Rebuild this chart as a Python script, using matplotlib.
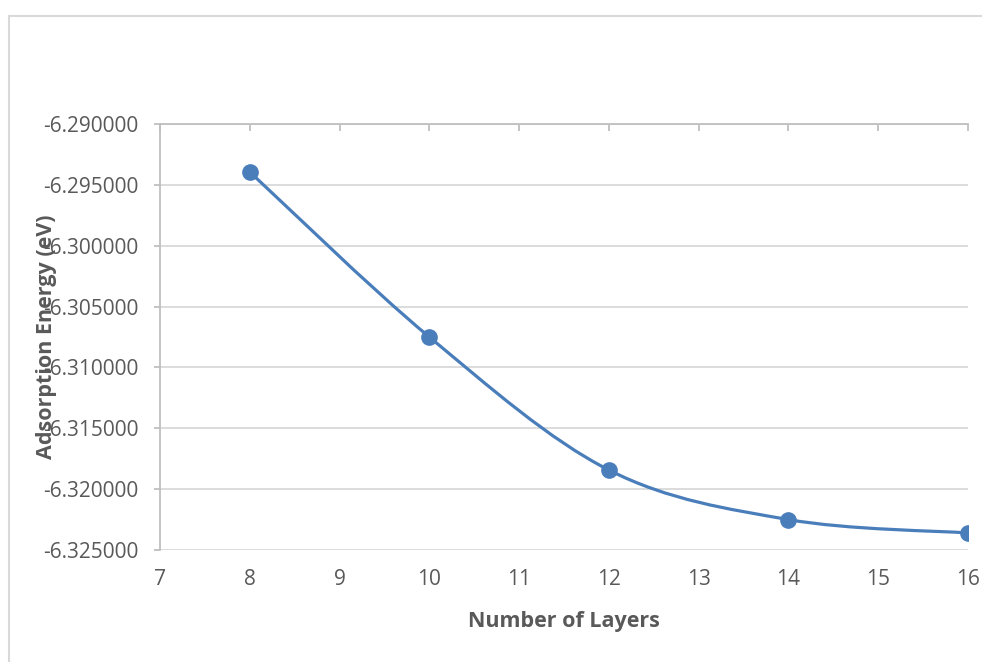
import matplotlib
matplotlib.use("Agg")
import matplotlib.pyplot as plt
from matplotlib.path import Path
from matplotlib.patches import PathPatch, Rectangle

# ── data ──
layers = [8, 10, 12, 14, 16]
energy = [-6.29394, -6.30750, -6.31843, -6.32250, -6.32360]

x_ticks = list(range(7, 17))
y_ticks = [-6.325, -6.320, -6.315, -6.310, -6.305, -6.300, -6.295, -6.290]

LINE = "#4A7EBB"
GRID = "#D9D9D9"
AXIS = "#BFBFBF"
TEXT = "#595959"

plt.rcParams["font.family"] = ["Open Sans", "DejaVu Sans"]

fig = plt.figure(figsize=(9.82, 6.62), dpi=100)
ax = fig.add_axes([160 / 982, 1 - 550 / 662, 808 / 982, 426 / 662])

# chart border (Excel chart area)
fig.patches.append(Rectangle((9 / 982, -0.05), 1.2, 1 - 16 / 662 + 0.05,
                             transform=fig.transFigure, fill=False,
                             edgecolor=GRID, linewidth=1.5))

# smoothed line (Excel-style Catmull-Rom Bezier through the points)
pts = list(zip(layers, energy))
verts = [pts[0]]
codes = [Path.MOVETO]
for i in range(len(pts) - 1):
    p0 = pts[i - 1] if i > 0 else pts[i]
    p1 = pts[i]
    p2 = pts[i + 1]
    p3 = pts[i + 2] if i + 2 < len(pts) else pts[i + 1]
    c1 = (p1[0] + (p2[0] - p0[0]) / 6, p1[1] + (p2[1] - p0[1]) / 6)
    c2 = (p2[0] - (p3[0] - p1[0]) / 6, p2[1] - (p3[1] - p1[1]) / 6)
    verts += [c1, c2, p2]
    codes += [Path.CURVE4] * 3
ax.add_patch(PathPatch(Path(verts, codes), facecolor="none",
                       edgecolor=LINE, linewidth=2.3, zorder=3))
ax.plot(layers, energy, "o", color=LINE, markersize=11, zorder=4)

ax.set_xlim(7, 16)
ax.set_ylim(-6.325, -6.290)
ax.set_xticks(x_ticks)
ax.set_yticks(y_ticks)
ax.set_yticklabels([f"{v:.6f}" for v in y_ticks])

ax.grid(axis="y", color=GRID, linewidth=1.3)
ax.set_axisbelow(True)

for s in ("right", "bottom"):
    ax.spines[s].set_visible(False)
for s in ("left", "top"):
    ax.spines[s].set_color(AXIS)
    ax.spines[s].set_linewidth(1.3)

ax.tick_params(axis="x", bottom=False, top=True, labelbottom=True,
               labeltop=False, direction="in", length=5, width=1.3,
               color=AXIS, pad=14, labelsize=15, labelcolor=TEXT)
ax.tick_params(axis="y", direction="out", length=4.5, width=1.3,
               color=AXIS, pad=11, labelsize=15, labelcolor=TEXT)

ax.set_xlabel("Number of Layers", fontsize=15.5, fontweight="bold",
              color=TEXT, labelpad=15)
ax.set_ylabel("Adsorption Energy (eV)", fontsize=15.5, fontweight="bold",
              color=TEXT)
ax.yaxis.set_label_coords(-0.1275, 0.5)

fig.savefig("out.png", dpi=100)
